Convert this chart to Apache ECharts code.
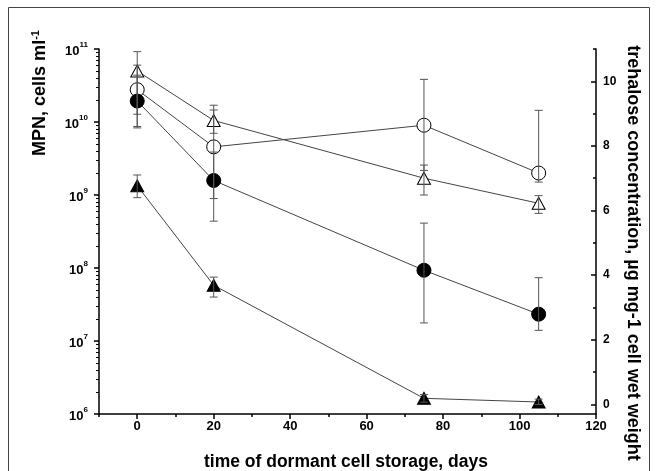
<!DOCTYPE html>
<html>
<head>
<meta charset="utf-8">
<script src="https://cdn.jsdelivr.net/npm/echarts@6/dist/echarts.min.js"></script>
<style>
html, body { margin: 0; padding: 0; background: #fff; }
#chart { width: 657px; height: 471px; }
</style>
</head>
<body>
<div id="chart"></div>
<script>
// storage time, days
var days = [0, 20, 75, 105];

// MPN, cells ml-1 (left log axis) - triangles
var mpnOpen = [5.0e10, 1.05e10, 1.7e9, 7.7e8];
var mpnOpenLow = [8.3e9, 7.0e9, 1.0e9, 5.6e8];
var mpnOpenHigh = [9.2e10, 1.46e10, 2.57e9, 9.8e8];
var mpnFilled = [1.34e9, 5.8e7, 1.64e6, 1.46e6];
var mpnFilledLow = [9.2e8, 4.0e7, 1.45e6, 1.35e6];
var mpnFilledHigh = [1.88e9, 7.5e7, 1.85e6, 1.6e6];

// trehalose, ug mg-1 cell wet weight (right axis) - circles
var trehOpen = [9.74, 7.97, 8.64, 7.16];
var trehOpenLow = [8.98, 6.37, 7.24, 6.88];
var trehOpenHigh = [10.5, 9.26, 10.06, 9.1];
var trehFilled = [9.39, 6.93, 4.15, 2.79];
var trehFilledLow = [8.6, 5.67, 2.52, 2.29];
var trehFilledHigh = [10.19, 7.81, 5.61, 3.92];

// axis ticks
var xMajor = [0, 20, 40, 60, 80, 100, 120];
var xMinor = [-10, 10, 30, 50, 70, 90, 110];
var logMajor = [1e6, 1e7, 1e8, 1e9, 1e10, 1e11];
var trehMajor = [0, 2, 4, 6, 8, 10];
var trehMinor = [1, 3, 5, 7, 9, 11];

var logMinor = [];
for (var e = 6; e < 11; e++) {
	for (var k = 2; k <= 9; k++) {
		logMinor.push(k * Math.pow(10, e));
	}
}

var font = 'Liberation Sans, Arial, sans-serif';
var black = '#000';

function pairs(vals) {
	var out = [];
	for (var i = 0; i < days.length; i++) {
		out.push([days[i], vals[i]]);
	}
	return out;
}

function lineSeries(name, yIndex, vals, symbol, size, fill) {
	return {
		name: name,
		type: 'line',
		yAxisIndex: yIndex,
		data: pairs(vals),
		symbol: symbol,
		symbolSize: size,
		lineStyle: { color: '#444', width: 1 },
		itemStyle: { color: fill, borderColor: black, borderWidth: 1 },
		emphasis: { disabled: true },
		animation: false,
		z: 3
	};
}

function errorSeries(yIndex, lows, highs) {
	var data = [];
	for (var i = 0; i < days.length; i++) {
		data.push([days[i], lows[i], highs[i]]);
	}
	return {
		type: 'custom',
		yAxisIndex: yIndex,
		encode: { x: 0, y: [1, 2] },
		silent: true,
		animation: false,
		z: 4,
		renderItem: function(params, api) {
			var lo = api.coord([api.value(0), api.value(1)]);
			var hi = api.coord([api.value(0), api.value(2)]);
			var w = 4;
			var st = { stroke: '#555', lineWidth: 1 };
			return {
				type: 'group',
				children: [
					{ type: 'line', shape: { x1: lo[0], y1: lo[1], x2: hi[0], y2: hi[1] }, style: st },
					{ type: 'line', shape: { x1: lo[0] - w, y1: lo[1], x2: lo[0] + w, y2: lo[1] }, style: st },
					{ type: 'line', shape: { x1: hi[0] - w, y1: hi[1], x2: hi[0] + w, y2: hi[1] }, style: st }
				]
			};
		},
		data: data
	};
}

var tickLabel = { color: black, fontWeight: 'bold', fontSize: 13, fontFamily: font };

var chart = echarts.init(document.getElementById('chart'));
var option = {
	backgroundColor: '#fff',
	animation: false,
	grid: { left: 99, right: 61, top: 49, bottom: 57 },
	xAxis: [
		{
			type: 'value', min: -10, max: 120, position: 'bottom',
			axisLine: { onZero: false, lineStyle: { color: black, width: 1.5 } },
			axisTick: { customValues: xMajor, length: 5, lineStyle: { color: black, width: 1.5 } },
			axisLabel: Object.assign({ customValues: xMajor, margin: 6 }, tickLabel),
			splitLine: { show: false }
		},
		{
			type: 'value', min: -10, max: 120, position: 'bottom',
			axisLine: { show: false, onZero: false },
			axisTick: { customValues: xMinor, length: 3, lineStyle: { color: black, width: 1.5 } },
			axisLabel: { show: false },
			splitLine: { show: false }
		}
	],
	yAxis: [
		{
			type: 'log', logBase: 10, min: 1e6, max: 1e11, position: 'left',
			axisLine: { show: true, onZero: false, lineStyle: { color: black, width: 1.5 } },
			axisTick: { show: true, customValues: logMajor, length: 5, lineStyle: { color: black, width: 1.5 } },
			axisLabel: {
				customValues: logMajor,
				margin: 11,
				formatter: function(v) {
					return '{b|10}{sup|' + Math.round(Math.log10(v)) + '}';
				},
				rich: {
					b: { color: black, fontWeight: 'bold', fontSize: 13, fontFamily: font, lineHeight: 17, verticalAlign: 'bottom' },
					sup: { color: black, fontWeight: 'bold', fontSize: 8, fontFamily: font, lineHeight: 17, verticalAlign: 'top' }
				}
			},
			splitLine: { show: false }
		},
		{
			type: 'value', min: -0.3, max: 11, position: 'right',
			axisLine: { show: true, onZero: false, lineStyle: { color: black, width: 1.5 } },
			axisTick: { show: true, inside: true, customValues: trehMajor, length: 5, lineStyle: { color: black, width: 1.5 } },
			axisLabel: Object.assign({ customValues: trehMajor, margin: 7 }, tickLabel, { fontSize: 12 }),
			splitLine: { show: false }
		},
		{
			type: 'log', logBase: 10, min: 1e6, max: 1e11, position: 'left',
			axisLine: { show: false, onZero: false },
			axisTick: { show: true, customValues: logMinor, length: 3, lineStyle: { color: black, width: 1 } },
			axisLabel: { show: false },
			splitLine: { show: false }
		},
		{
			type: 'value', min: -0.3, max: 11, position: 'right',
			axisLine: { show: false, onZero: false },
			axisTick: { show: true, inside: true, customValues: trehMinor, length: 3, lineStyle: { color: black, width: 1.5 } },
			axisLabel: { show: false },
			splitLine: { show: false }
		}
	],
	series: [
		lineSeries('MPN open', 0, mpnOpen, 'triangle', [13, 12], '#fff'),
		lineSeries('MPN filled', 0, mpnFilled, 'triangle', [13, 12], black),
		lineSeries('trehalose open', 1, trehOpen, 'circle', 14, '#fff'),
		lineSeries('trehalose filled', 1, trehFilled, 'circle', 14, black),
		errorSeries(0, mpnOpenLow, mpnOpenHigh),
		errorSeries(0, mpnFilledLow, mpnFilledHigh),
		errorSeries(1, trehOpenLow, trehOpenHigh),
		errorSeries(1, trehFilledLow, trehFilledHigh)
	],
	graphic: [
		{
			type: 'rect', silent: true,
			shape: { x: 8.5, y: 7.5, width: 641, height: 480 },
			style: { fill: null, stroke: '#444', lineWidth: 1 }
		},
		{
			type: 'text', x: 40, y: 93, rotation: Math.PI / 2,
			style: {
				text: 'MPN, cells ml{sup|-1}',
				fill: black, font: 'bold 18px ' + font,
				align: 'center', verticalAlign: 'middle',
				rich: {
					sup: { fill: black, font: 'bold 11px ' + font, verticalAlign: 'top', lineHeight: 20 }
				}
			}
		},
		{
			type: 'text', x: 633, y: 253, rotation: -Math.PI / 2,
			style: {
				text: 'trehalose concentration, µg mg-1 cell wet weight',
				fill: black, font: 'bold 18px ' + font,
				align: 'center', verticalAlign: 'middle'
			}
		},
		{
			type: 'text', x: 346, y: 462,
			style: {
				text: 'time of dormant cell storage, days',
				fill: black, font: 'bold 17.5px ' + font,
				align: 'center', verticalAlign: 'middle'
			}
		}
	]
};
chart.setOption(option);
</script>
</body>
</html>
